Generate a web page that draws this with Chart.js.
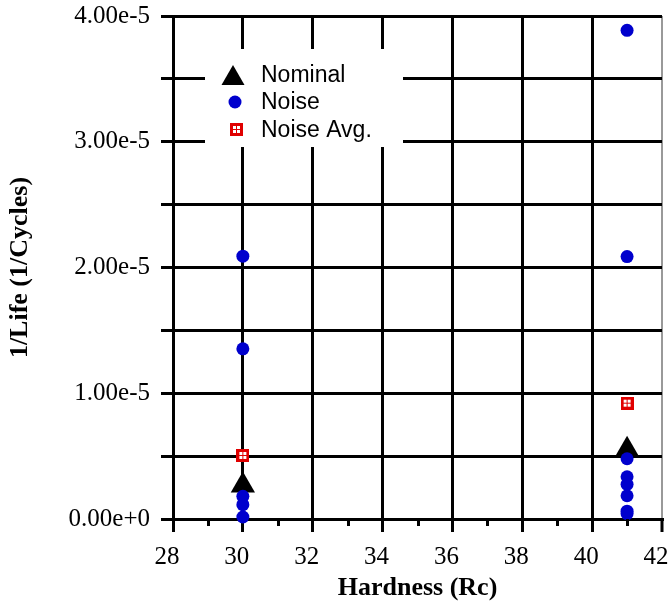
<!DOCTYPE html>
<html>
<head>
<meta charset="utf-8">
<script src="https://cdn.jsdelivr.net/npm/chart.js@4/dist/chart.umd.min.js"></script>
<style>
html, body { margin: 0; padding: 0; background: #fff; }
</style>
</head>
<body>
<canvas id="myChart" width="670" height="603"></canvas>
<script>
// values
const nominalHardness = [30, 41];
const nominalInvLife = [0.267e-5, 0.55e-5];

const noiseHardness = [30, 30, 30, 30, 30, 41, 41, 41, 41, 41, 41, 41, 41];
const noiseInvLife = [2.09e-5, 1.353e-5, 0.18e-5, 0.114e-5, 0.016e-5,
    3.886e-5, 2.087e-5, 0.479e-5, 0.336e-5, 0.276e-5, 0.185e-5, 0.062e-5, 0.042e-5];

const avgHardness = [30, 41];
const avgInvLife = [0.505e-5, 0.921e-5];

const xTicks = [28, 30, 32, 34, 36, 38, 40, 42];
const yTicks = [0, 0.5e-5, 1e-5, 1.5e-5, 2e-5, 2.5e-5, 3e-5, 3.5e-5, 4e-5];

const serif = '"Liberation Serif", "Times New Roman", serif';
const sans = '"Liberation Sans", Arial, sans-serif';
const blue = '#0000cd';
const red = '#e00000';

function toPoints(xs, ys) {
    return xs.map((x, i) => ({ x: x, y: ys[i] }));
}

// red square with white windows for the average marker
function makeAvgMarker() {
    const c = document.createElement('canvas');
    c.width = 13;
    c.height = 13;
    const g = c.getContext('2d');
    g.fillStyle = red;
    g.fillRect(0, 0, 13, 13);
    g.fillStyle = '#fff';
    g.fillRect(3, 3, 3, 3);
    g.fillRect(7, 3, 3, 3);
    g.fillRect(3, 7, 3, 3);
    g.fillRect(7, 7, 3, 3);
    return c;
}
const avgMarker = makeAvgMarker();

const noPad = () => ({ left: 0, top: 0, right: 0, bottom: 0 });

const minorTicks = {
    id: 'minorTicks',
    afterDraw(chart) {
        const ctx = chart.ctx;
        const sx = chart.scales.x;
        ctx.save();
        ctx.strokeStyle = '#000';
        ctx.lineWidth = 3;
        for (let i = 0; i < xTicks.length - 1; i++) {
            const px = Math.round(sx.getPixelForValue((xTicks[i] + xTicks[i + 1]) / 2)) + 0.5;
            ctx.beginPath();
            ctx.moveTo(px, sx.top);
            ctx.lineTo(px, sx.top + 7);
            ctx.stroke();
        }
        ctx.restore();
    }
};

const boxLegend = {
    id: 'boxLegend',
    afterDraw(chart) {
        const ctx = chart.ctx;
        ctx.save();
        ctx.fillStyle = '#fff';
        ctx.fillRect(205, 49, 198, 98);

        // triangle
        ctx.fillStyle = '#000';
        ctx.beginPath();
        ctx.moveTo(233, 65);
        ctx.lineTo(244.5, 85);
        ctx.lineTo(221.5, 85);
        ctx.closePath();
        ctx.fill();

        // circle
        ctx.fillStyle = blue;
        ctx.beginPath();
        ctx.arc(235, 102, 6.5, 0, Math.PI * 2);
        ctx.fill();

        // avg square
        ctx.drawImage(avgMarker, 230, 123);

        ctx.fillStyle = '#000';
        ctx.font = '23px ' + sans;
        ctx.textBaseline = 'alphabetic';
        const labels = chart.data.datasets.map(d => d.label);
        ctx.fillText(labels[0], 261, 82);
        ctx.fillText(labels[1], 261, 109);
        ctx.fillText(labels[2], 261, 136.5);
        ctx.restore();
    }
};

const ctx = document.getElementById('myChart');

new Chart(ctx, {
    type: 'scatter',
    data: {
        datasets: [
            {
                label: 'Nominal',
                data: toPoints(nominalHardness, nominalInvLife),
                pointStyle: 'triangle',
                pointRadius: 14,
                backgroundColor: '#000',
                borderColor: '#000',
                borderWidth: 0,
                order: 2,
                clip: false
            },
            {
                label: 'Noise',
                data: toPoints(noiseHardness, noiseInvLife),
                pointStyle: 'circle',
                pointRadius: 6.5,
                backgroundColor: blue,
                borderColor: blue,
                borderWidth: 0,
                order: 0,
                clip: false
            },
            {
                label: 'Noise Avg.',
                data: toPoints(avgHardness, avgInvLife),
                pointStyle: avgMarker,
                order: 1,
                clip: false
            }
        ]
    },
    options: {
        responsive: false,
        animation: false,
        devicePixelRatio: 1,
        layout: { autoPadding: false, padding: { top: 16, right: 8, bottom: 0, left: 0 } },
        plugins: {
            legend: { display: false },
            tooltip: { enabled: false }
        },
        scales: {
            x: {
                type: 'linear',
                position: 'bottom',
                min: 28,
                max: 42,
                afterBuildTicks: s => { s.ticks = xTicks.map(v => ({ value: v })); },
                afterFit: s => {
                    s.height = 84;
                    s.paddingLeft = 0;
                    s.paddingRight = 0;
                    s.getPadding = noPad;
                },
                grid: {
                    color: c => (c.tick && c.tick.value === 42) ? '#999' : '#000',
                    lineWidth: c => (c.tick && c.tick.value === 42) ? 2 : 3,
                    tickColor: '#000',
                    tickWidth: 3,
                    tickLength: 13
                },
                border: { color: '#000', width: 3 },
                ticks: {
                    color: '#000',
                    font: { family: serif, size: 25 },
                    padding: 10,
                    labelOffset: -6,
                    maxRotation: 0,
                    autoSkip: false,
                    callback: v => String(v)
                },
                title: {
                    display: true,
                    text: 'Hardness (Rc)',
                    color: '#000',
                    font: { family: serif, size: 26, weight: 'bold', lineHeight: 1.1 },
                    padding: { top: 0, bottom: 0 }
                }
            },
            y: {
                min: 0,
                max: 4e-5,
                afterBuildTicks: s => { s.ticks = yTicks.map(v => ({ value: v })); },
                afterFit: s => {
                    s.width = 173;
                    s.paddingTop = 0;
                    s.paddingBottom = 0;
                    s.getPadding = noPad;
                },
                grid: {
                    color: '#000',
                    lineWidth: 3,
                    tickColor: '#000',
                    tickWidth: 3,
                    tickLength: 12
                },
                border: { color: '#000', width: 3 },
                ticks: {
                    color: '#000',
                    font: { family: serif, size: 25 },
                    padding: 11,
                    autoSkip: false,
                    callback: v => {
                        const k = v * 1e5;
                        return Math.abs(k - Math.round(k)) < 1e-6 ? v.toExponential(2) : '';
                    }
                },
                title: {
                    display: true,
                    text: '1/Life (1/Cycles)',
                    color: '#000',
                    font: { family: serif, size: 26, weight: 'bold' },
                    padding: { top: 5, bottom: 0 }
                }
            }
        }
    },
    plugins: [minorTicks, boxLegend]
});
</script>
</body>
</html>
